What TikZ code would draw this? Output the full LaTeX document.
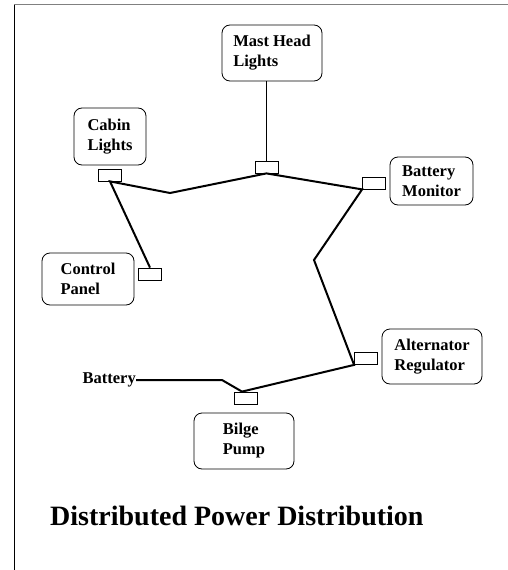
\documentclass[tikz,border=0pt]{standalone}
\usepackage{fontspec}
\setmainfont{Liberation Serif}
\usepackage{tikz}
\usetikzlibrary{calc}

\begin{document}
\begin{tikzpicture}[
  x=1pt,y=-1pt,
  every node/.style={font=\fontsize{16.5}{20}\selectfont\bfseries},
  unit/.style={draw,rounded corners=8pt,align=left,inner sep=0pt,line width=0.8pt},
  tap/.style={draw,minimum width=23pt,minimum height=12pt,inner sep=0pt,line width=0.8pt},
  bus/.style={line width=2pt,line join=miter},
  drop/.style={line width=0.8pt}
]
  \useasboundingbox (0,0) rectangle (508,570);
  \draw[gray,line width=1.2pt] (14,4.5) -- (508,4.5);
  \draw[line width=0.8pt] (14,4.5) -- (14,570);

  % units
  \node[unit,minimum width=100pt,minimum height=56pt] (mast) at (272,53) {Mast Head\\Lights};
  \node[unit,minimum width=72pt,minimum height=57pt] (cabin) at (110,136.5) {Cabin\\Lights};
  \node[unit,minimum width=83pt,minimum height=48pt] (monitor) at (431.5,181) {Battery\\Monitor};
  \node[unit,minimum width=92pt,minimum height=52pt] (panel) at (88,279) {Control\\Panel};
  \node[unit,minimum width=100pt,minimum height=55pt] (alt) at (432,356.5) {Alternator\\Regulator};
  \node[unit,minimum width=100pt,minimum height=56pt] (bilge) at (244,441) {Bilge\\Pump};

  % taps on the bus
  \node[tap] (tmast) at (266.5,167) {};
  \node[tap] (tcabin) at (110,175) {};
  \node[tap] (tmon) at (374,183) {};
  \node[tap] (tpanel) at (150,274) {};
  \node[tap] (talt) at (366,358.5) {};
  \node[tap] (tbilge) at (246,398) {};

  \node[inner sep=0pt,anchor=east] (battery) at (136,380) {Battery};
  \node[font=\fontsize{28}{32}\selectfont\bfseries,inner sep=0pt,anchor=base west] (title) at (50,525) {Distributed Power Distribution};

  \coordinate (b1) at (170,193);
  \coordinate (b2) at (314,260);
  \coordinate (b3) at (222,380);

  \draw[drop] (tmast.north) -- (tmast.north |- mast.south);
  \draw[bus] (tpanel.north) -- (tcabin.south) -- (b1) -- (tmast.south) -- (tmon.south west)
    -- (b2) -- (talt.south west) -- ([xshift=-4pt]tbilge.north) -- (b3) -- (battery.east);
\end{tikzpicture}
\end{document}
